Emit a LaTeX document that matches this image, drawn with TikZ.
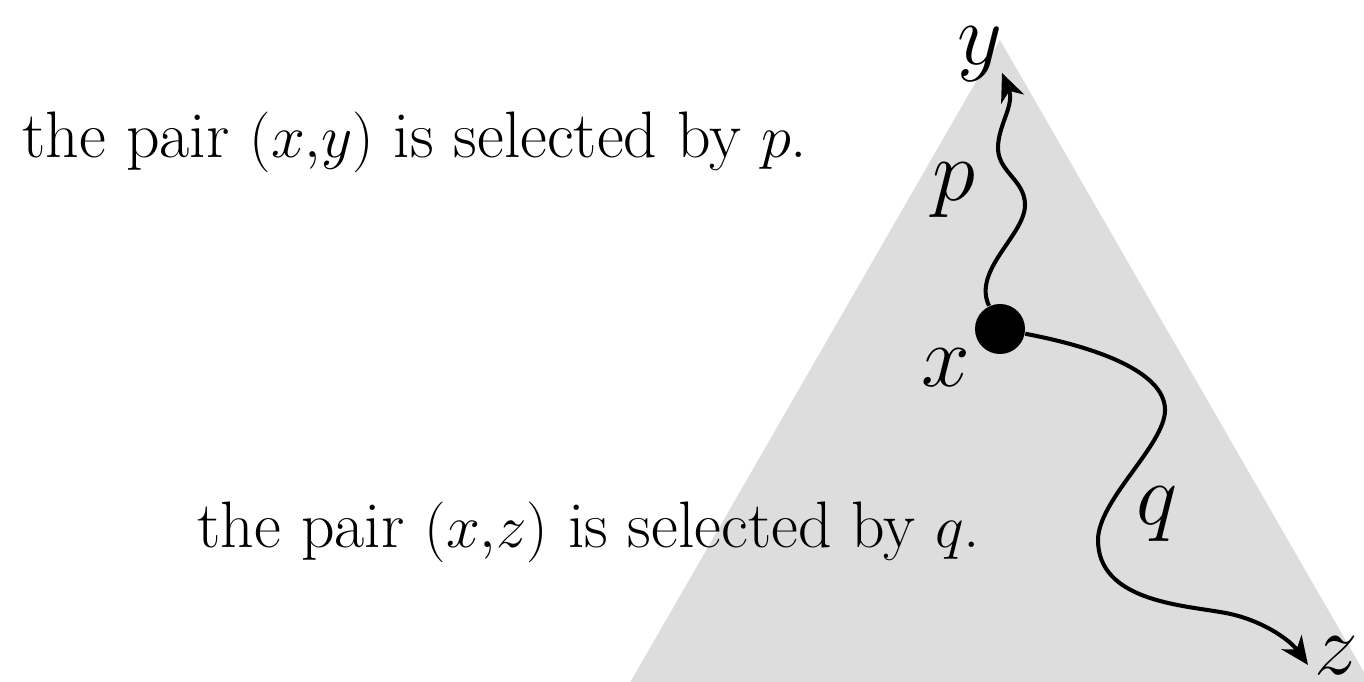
\documentclass[tikz,border=0pt]{standalone}
\usepackage{tikz}
\usetikzlibrary{arrows.meta, positioning}
\definecolor{shadegray}{RGB}{221,221,221}

\begin{document}
\begin{tikzpicture}[
  x=0.01cm, y=-0.01cm,
  caption/.style={anchor=base west, inner sep=0pt, font=\fontsize{18.7}{22}\selectfont},
  var/.style={inner sep=0pt, font=\fontsize{23}{27}\selectfont},
  dot/.style={circle, fill=black, inner sep=0pt, minimum size=0.5cm},
  walk/.style={line width=1.15pt, -{Stealth[length=8pt, width=7pt, inset=2.5pt]}},
]
\useasboundingbox (0,0) rectangle (1364,682);
\begin{scope}
\clip (0,0) rectangle (1364,682);
\fill[shadegray] (1000,40) -- (1380,700) -- (620,700) -- cycle;
\end{scope}

\node[caption] (selp) at (22,158) {the pair $(x{,}y)$ is selected by $p$.};
\node[caption] (selq) at (197,547) {the pair $(x{,}z)$ is selected by $q$.};

\node[dot] (xdot) at (1000,329) {};
\coordinate (ytip) at (1002,73);
\coordinate (ztip) at (1308,665);

\node[var] (xlbl) at (946,368) {$x$};
\node[var] (ylbl) at (980,54)  {$y$};
\node[var] (zlbl) at (1336,656) {$z$};
\node[var] (plbl) at (954,190) {$p$};
\node[var] (qlbl) at (1157,514) {$q$};

\draw[walk] (xdot) .. controls (972,270) and (1025,235) .. (1025,205)
  .. controls (1025,180) and (998,172) .. (998,148)
  .. controls (998,125) and (1015,105) .. (ytip);
\draw[walk] (xdot) .. controls (1090,346) and (1165,370) .. (1165,410)
  .. controls (1165,445) and (1098,500) .. (1098,540)
  .. controls (1098,600) and (1180,605) .. (1220,612)
  .. controls (1260,618) and (1290,640) .. (ztip);
\end{tikzpicture}
\end{document}
